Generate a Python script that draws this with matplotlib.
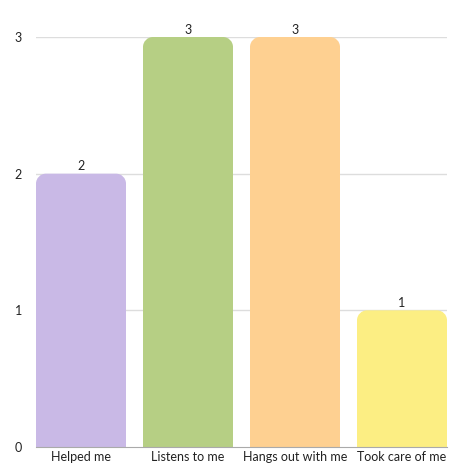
import matplotlib.pyplot as plt
from matplotlib.path import Path
from matplotlib.patches import PathPatch

categories = ['Helped me', 'Listens to me', 'Hangs out with me', 'Took care of me']
values = [2, 3, 3, 1]
colors = ['#C9B9E6', '#B6CF84', '#FED091', '#FCEE83']

plt.rcParams['font.family'] = ['Lato', 'DejaVu Sans']

W, H = 451, 466
fig = plt.figure(figsize=(W / 100, H / 100), dpi=100)
ax = fig.add_axes([36 / W, 19 / H, 411 / W, 410 / H])

slot = 107.0
bar_w = 90 / slot
ax.set_xlim(0, len(categories) - 1 + bar_w)
ax.set_ylim(0, 3)

# corner radius ~10 px converted to data units
rx = 10 / slot
ry = 10 / (410 / 3)


def rounded_top_bar(x0, w, h):
    k = 0.5523
    x1 = x0 + w
    verts = [
        (x0, 0), (x0, h - ry),
        (x0, h - ry + k * ry), (x0 + rx - k * rx, h), (x0 + rx, h),
        (x1 - rx, h),
        (x1 - rx + k * rx, h), (x1, h - ry + k * ry), (x1, h - ry),
        (x1, 0), (x0, 0),
    ]
    codes = [Path.MOVETO, Path.LINETO,
             Path.CURVE4, Path.CURVE4, Path.CURVE4,
             Path.LINETO,
             Path.CURVE4, Path.CURVE4, Path.CURVE4,
             Path.LINETO, Path.CLOSEPOLY]
    return Path(verts, codes)


for i, (v, c) in enumerate(zip(values, colors)):
    ax.add_patch(PathPatch(rounded_top_bar(i, bar_w, v), facecolor=c,
                           edgecolor='none', zorder=2))
    ax.text(i + bar_w / 2, v + 0.01, str(v), ha='center', va='bottom',
            fontsize=9, color='#222222', clip_on=False)

for y in [1, 2, 3]:
    ax.axhline(y, color='#dddddd', linewidth=1, zorder=1)

for s in ['top', 'right', 'left']:
    ax.spines[s].set_visible(False)
ax.spines['bottom'].set_color('#aaaaaa')
ax.spines['bottom'].set_zorder(3)

ax.set_yticks([0, 1, 2, 3])
ax.set_xticks([i + bar_w / 2 for i in range(len(categories))])
ax.set_xticklabels(categories)
ax.tick_params(axis='both', length=0, labelsize=9, colors='#222222')
ax.tick_params(axis='y', pad=10)
ax.tick_params(axis='x', pad=3)

fig.savefig('out.png', dpi=100)
